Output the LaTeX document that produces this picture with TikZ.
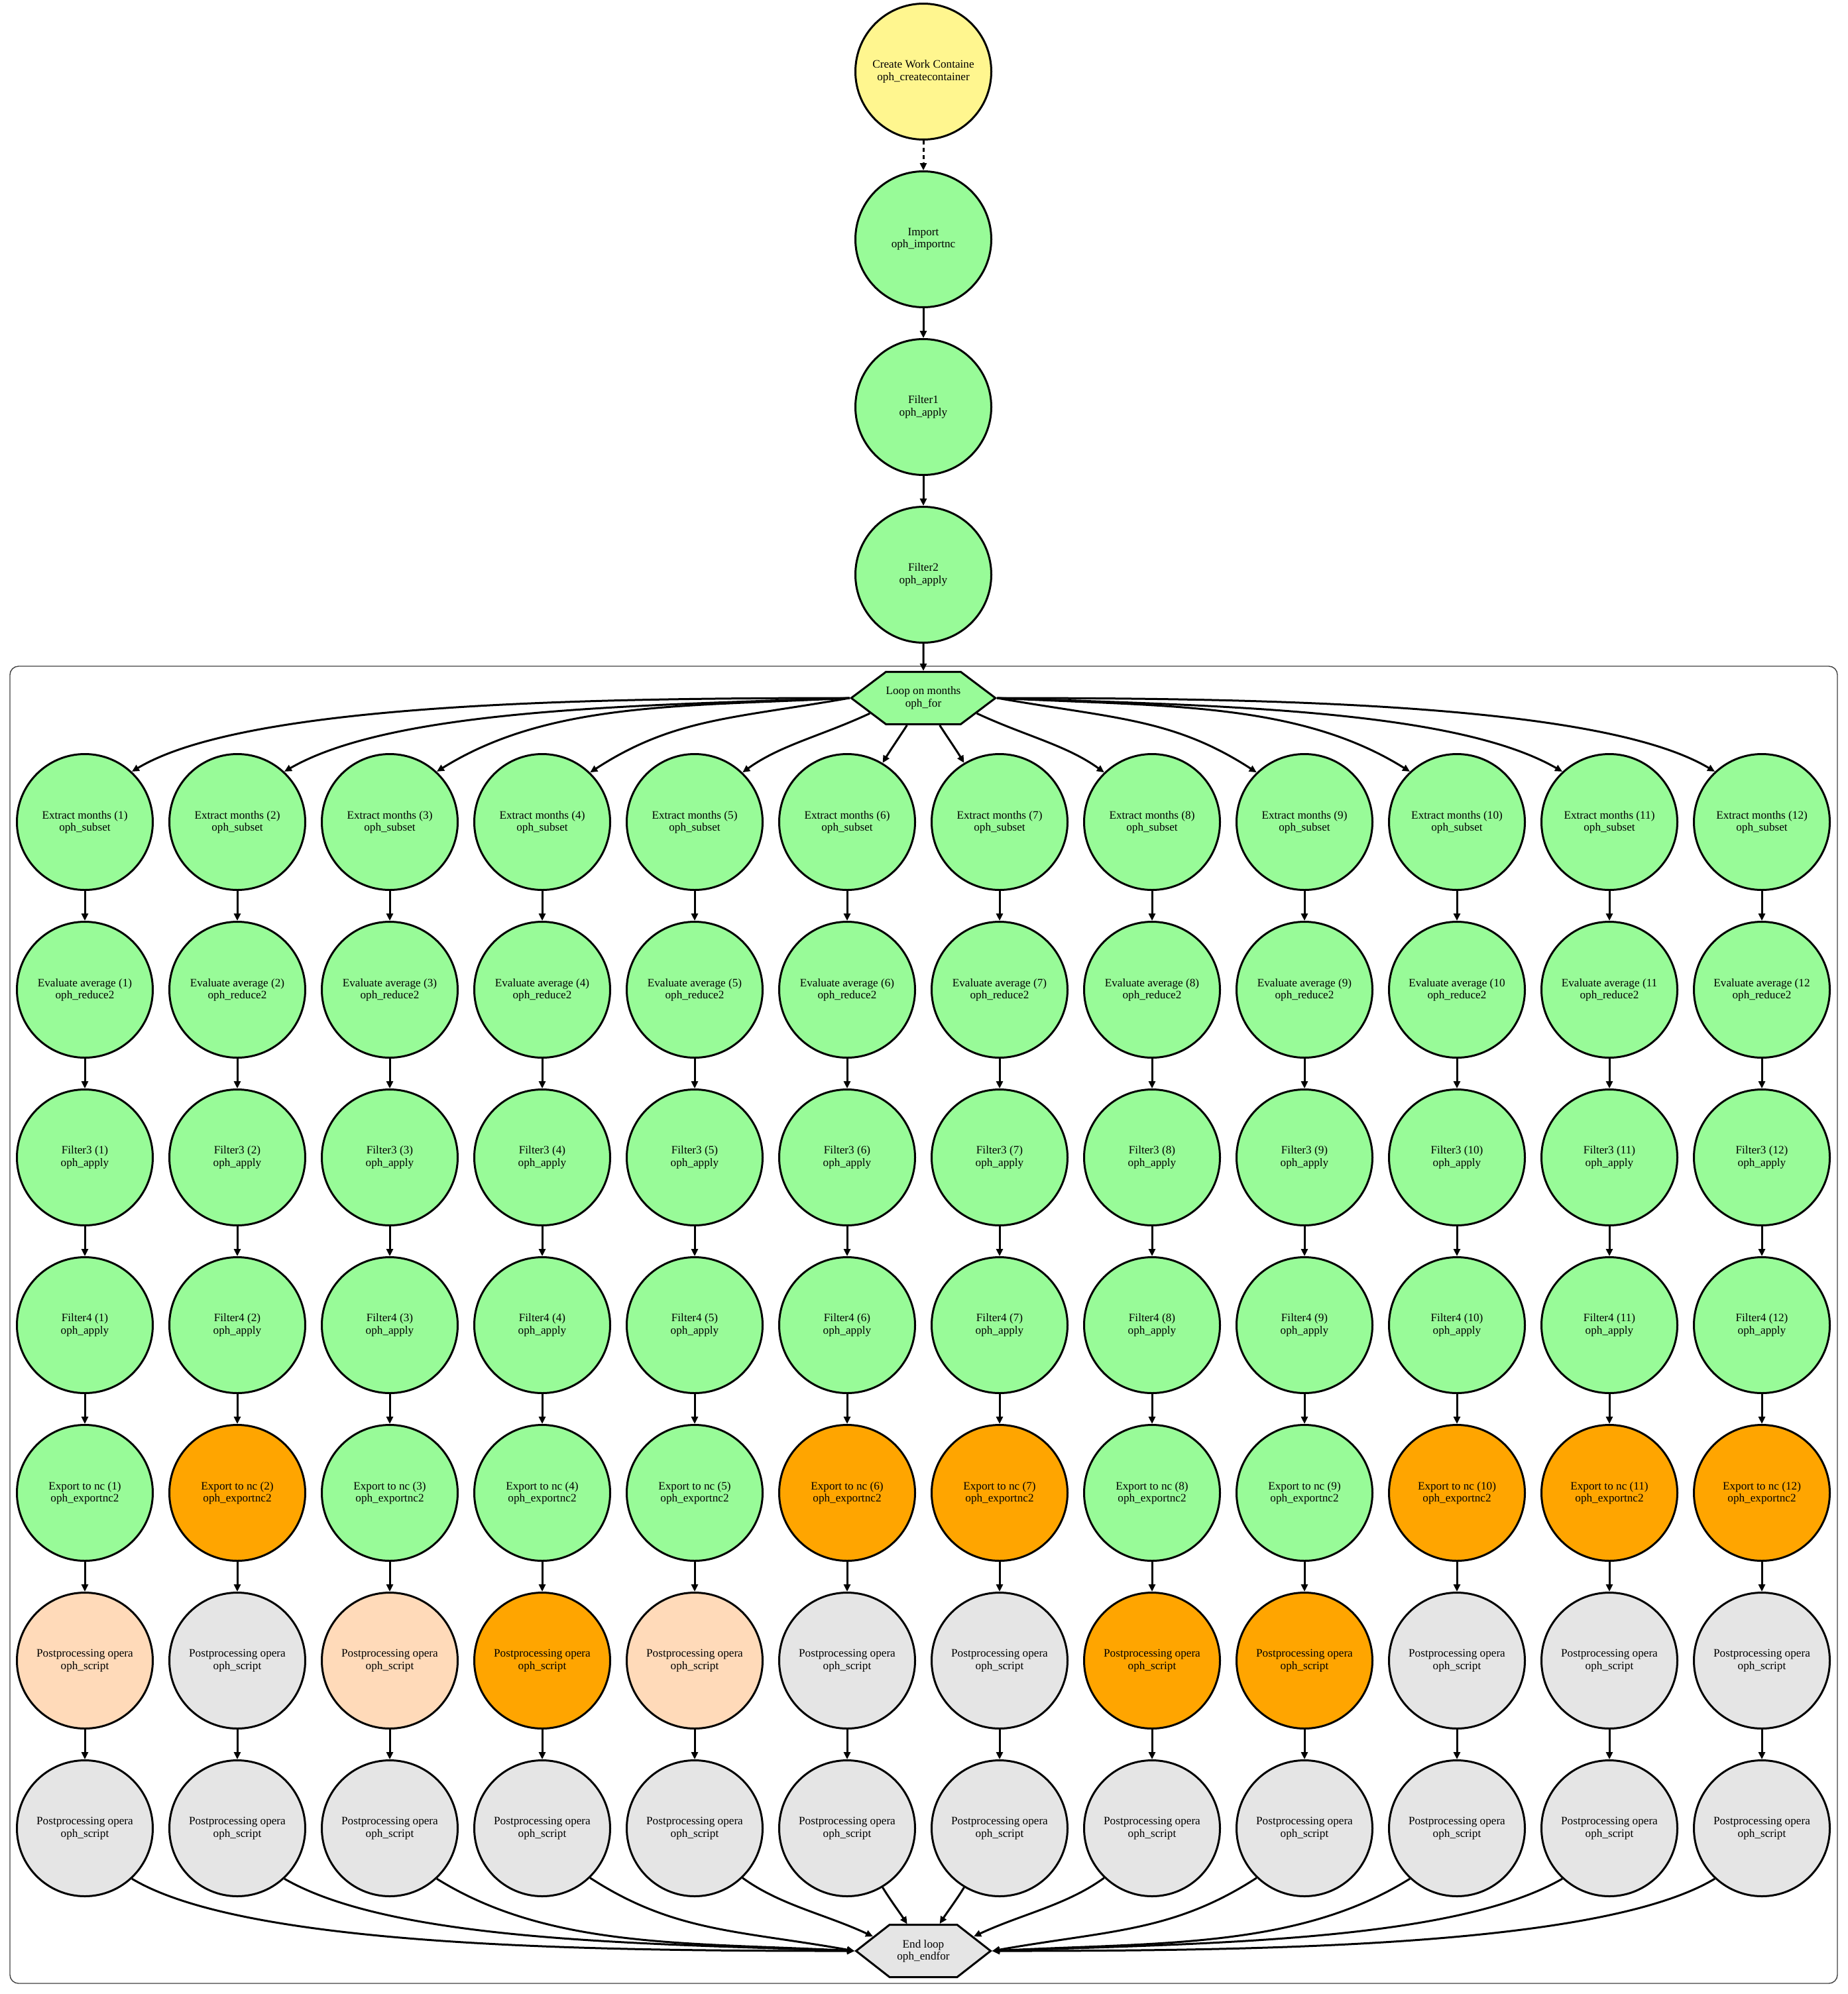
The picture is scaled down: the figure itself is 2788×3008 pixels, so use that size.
\documentclass[tikz,border=0pt]{standalone}
\usepackage{fontspec}
\setmainfont{Liberation Serif}
\usepackage{tikz}
\usetikzlibrary{arrows.meta,shapes.symbols}
\definecolor{opgreen}{HTML}{98FB98}
\definecolor{opyellow}{HTML}{FFF68F}
\definecolor{oporange}{HTML}{FFA500}
\definecolor{oppeach}{HTML}{FFDAB9}
\definecolor{opgray}{HTML}{E5E5E5}

\begin{document}
\begin{tikzpicture}[x=0.5pt, y=0.5pt,
    opnode/.style={circle, draw, line width=1.5pt, minimum size=102.5pt, inner sep=0pt,
      align=center, font=\fontsize{8.6pt}{9.15pt}\selectfont},
    hexnode/.style={signal, signal to=west and east, draw, line width=1.5pt, minimum height=39.5pt,
      inner sep=0pt, align=center, font=\fontsize{8.6pt}{9.15pt}\selectfont},
    flow/.style={line width=1.5pt, -{Triangle[length=5.5pt, width=5pt]}}]
  \useasboundingbox (0,0) rectangle (2788,-3008);
  \pgfmathsetmacro{\xmid}{1393}
  \pgfmathsetmacro{\xfirst}{128}
  \pgfmathsetmacro{\colstep}{230}

  \draw[rounded corners=6.5pt, line width=0.7pt, black!75] (15,-1005) rectangle (2772,-2992);

  \node[opnode, fill=opyellow] (create) at (\xmid,-108) {Create Work Containe\\oph\_createcontainer};
  \node[opnode, fill=opgreen] (import) at (\xmid,-361) {Import\\oph\_importnc};
  \node[opnode, fill=opgreen] (filter1) at (\xmid,-614) {Filter1\\oph\_apply};
  \node[opnode, fill=opgreen] (filter2) at (\xmid,-867) {Filter2\\oph\_apply};
  \node[hexnode, fill=opgreen, minimum width=108pt, signal pointer angle=74] (loop) at (\xmid,-1053) {Loop on months\\oph\_for};
  \node[hexnode, fill=opgray, minimum width=101.5pt, signal pointer angle=76] (endloop) at (\xmid,-2943) {End loop\\oph\_endfor};

  \draw[flow, dash pattern=on 3pt off 2.5pt] (create) -- (import);
  \draw[flow] (import) -- (filter1);
  \draw[flow] (filter1) -- (filter2);
  \draw[flow] (filter2) -- (loop);

  \foreach \i/\expfill/\postfill in {1/opgreen/oppeach, 2/oporange/opgray, 3/opgreen/oppeach,
      4/opgreen/oporange, 5/opgreen/oppeach, 6/oporange/opgray, 7/oporange/opgray,
      8/opgreen/oporange, 9/opgreen/oporange, 10/oporange/opgray, 11/oporange/opgray, 12/oporange/opgray}{
    \pgfmathsetmacro{\xcol}{\xfirst+(\i-1)*\colstep}
    \ifnum\i>9 \def\avgtext{Evaluate average (\i}\else \def\avgtext{Evaluate average (\i)}\fi
    \node[opnode, fill=opgreen] (ext-\i) at (\xcol,-1240) {Extract months (\i)\\oph\_subset};
    \node[opnode, fill=opgreen] (avg-\i) at (\xcol,-1493) {\avgtext\\oph\_reduce2};
    \node[opnode, fill=opgreen] (fa-\i) at (\xcol,-1746) {Filter3 (\i)\\oph\_apply};
    \node[opnode, fill=opgreen] (fb-\i) at (\xcol,-1999) {Filter4 (\i)\\oph\_apply};
    \node[opnode, fill=\expfill] (exp-\i) at (\xcol,-2252) {Export to nc (\i)\\oph\_exportnc2};
    \node[opnode, fill=\postfill] (posta-\i) at (\xcol,-2505) {Postprocessing opera\\oph\_script};
    \node[opnode, fill=opgray] (postb-\i) at (\xcol,-2758) {Postprocessing opera\\oph\_script};
    \draw[flow] (ext-\i) -- (avg-\i);
    \draw[flow] (avg-\i) -- (fa-\i);
    \draw[flow] (fa-\i) -- (fb-\i);
    \draw[flow] (fb-\i) -- (exp-\i);
    \draw[flow] (exp-\i) -- (posta-\i);
    \draw[flow] (posta-\i) -- (postb-\i);
  }

  % fan out of the loop and fan in to the end, mirrored
  \foreach \j/\sa/\so/\ei/\ea/\da/\db in {1/180/180/31/47/200/100, 2/180/182/30/47/160/95,
      3/180/183/32/47/125/100, 4/180/190/33/46/90/75, 5/196/205/36/46/40/35, 6/239/237/59/59/10/10}{
    \pgfmathtruncatemacro{\k}{13-\j}
    \pgfmathtruncatemacro{\sar}{mod(540-\sa,360)}
    \pgfmathtruncatemacro{\sor}{mod(540-\so,360)}
    \pgfmathtruncatemacro{\eir}{180-\ei}
    \pgfmathtruncatemacro{\ear}{180-\ea}
    \draw[flow] (loop.\sa) to[out=\so, in=\ei, out distance=\da pt, in distance=\db pt] (ext-\j.\ea);
    \draw[flow] (loop.\sar) to[out=\sor, in=\eir, out distance=\da pt, in distance=\db pt] (ext-\k.\ear);
    \pgfmathtruncatemacro{\bsa}{360-\ea}
    \pgfmathtruncatemacro{\bso}{360-\ei}
    \pgfmathtruncatemacro{\bea}{360-\sa}
    \pgfmathtruncatemacro{\bei}{360-\so}
    \pgfmathtruncatemacro{\csa}{180+\ea}
    \pgfmathtruncatemacro{\cso}{180+\ei}
    \pgfmathtruncatemacro{\cea}{\sa-180}
    \pgfmathtruncatemacro{\cei}{\so-180}
    \draw[flow] (postb-\j.\bsa) to[out=\bso, in=\bei, out distance=\db pt, in distance=\da pt] (endloop.\bea);
    \draw[flow] (postb-\k.\csa) to[out=\cso, in=\cei, out distance=\db pt, in distance=\da pt] (endloop.\cea);
  }
\end{tikzpicture}
\end{document}
